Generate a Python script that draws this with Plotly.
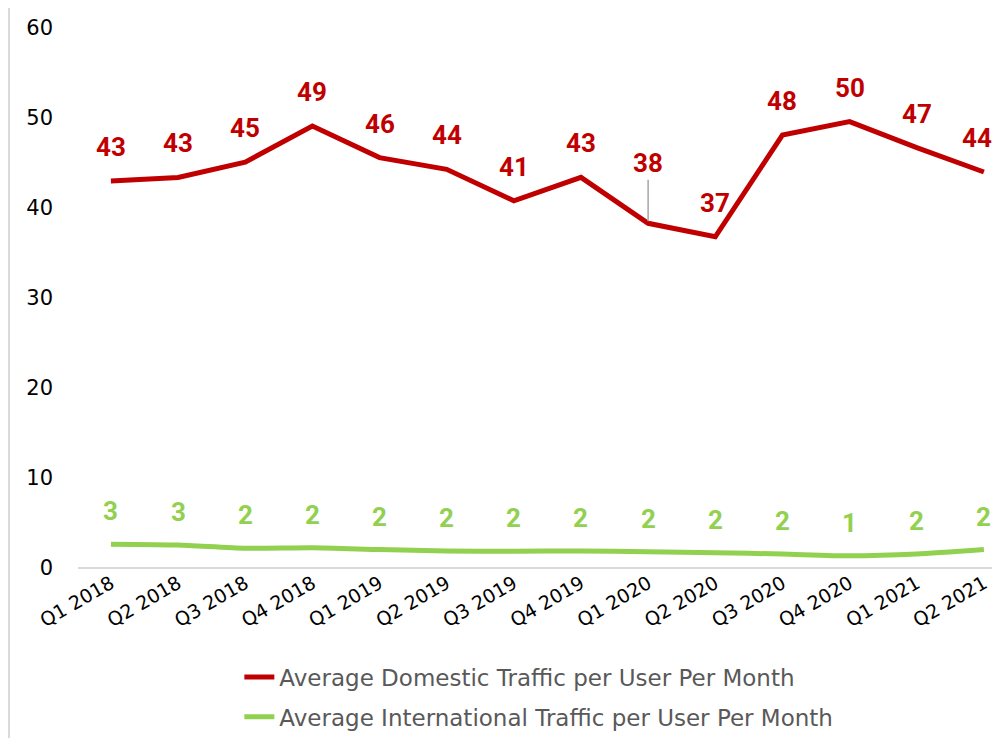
import plotly.graph_objects as go

quarters = ["Q1 2018", "Q2 2018", "Q3 2018", "Q4 2018", "Q1 2019", "Q2 2019", "Q3 2019",
            "Q4 2019", "Q1 2020", "Q2 2020", "Q3 2020", "Q4 2020", "Q1 2021", "Q2 2021"]
domestic = [43.0, 43.4, 45.1, 49.1, 45.6, 44.3, 40.8, 43.4, 38.3, 36.8, 48.1, 49.6, 46.7, 44.0]
international = [2.65, 2.55, 2.2, 2.25, 2.05, 1.9, 1.85, 1.9, 1.8, 1.7, 1.55, 1.35, 1.55, 2.05]
y_ticks = [0, 10, 20, 30, 40, 50, 60]

name_dom = "Average Domestic Traffic per User Per Month"
name_int = "Average International Traffic per User Per Month"
RED = "#C00000"
GREEN = "#92D050"

fig = go.Figure()
fig.add_trace(go.Scatter(x=list(range(len(quarters))), y=domestic, mode="lines", name=name_dom,
                         line=dict(color=RED, width=5), legendgroup="a"))
fig.add_trace(go.Scatter(x=list(range(len(quarters))), y=international, mode="lines", name=name_int,
                         line=dict(color=GREEN, width=5, shape="spline", smoothing=0.6),
                         legendgroup="b"))

lab_font_r = dict(family="Roboto", size=26, color=RED, weight="bold")
lab_font_g = dict(family="Roboto", size=26, color=GREEN, weight="bold")
last = len(quarters) - 1
annotations = []
for i, v in enumerate(domestic):
    if quarters[i] == "Q1 2020":
        annotations.append(dict(x=i, y=v, text=f"{v:.0f}", showarrow=True, arrowhead=0,
                                arrowwidth=1.5, arrowcolor="#A6A6A6", ax=0, ay=-60, standoff=2,
                                font=lab_font_r))
    else:
        annotations.append(dict(x=i, y=v, text=f"{v:.0f}", showarrow=False, yshift=34,
                                xshift=-7 if i == last else 0, font=lab_font_r))
for i, v in enumerate(international):
    annotations.append(dict(x=i, y=v, text=f"{v:.0f}", showarrow=False, yshift=33,
                            font=lab_font_g))

fig.update_layout(
    width=1000, height=738,
    margin=dict(l=70, r=8, t=15, b=177),
    paper_bgcolor="white", plot_bgcolor="white",
    annotations=annotations,
    showlegend=True,
    legend=dict(orientation="v", x=0.175, xanchor="left", y=-0.162, yanchor="top",
                font=dict(family="DejaVu Sans", size=23, color="#595959"),
                tracegroupgap=7, bgcolor="rgba(0,0,0,0)"),
    xaxis=dict(tickmode="array", tickvals=list(range(len(quarters))), ticktext=quarters,
               range=[-0.49, 13.24], tickangle=-30, showgrid=False, zeroline=False,
               showline=False, ticks="",
               tickfont=dict(family="DejaVu Sans", size=19, color="black")),
    yaxis=dict(range=[0, 60], tickvals=y_ticks, showgrid=False, zeroline=True,
               zerolinecolor="#D9D9D9", zerolinewidth=2, showline=False, ticks="",
               ticklabelstandoff=24,
               tickfont=dict(family="DejaVu Sans", size=21, color="black")),
    shapes=[dict(type="line", xref="paper", yref="paper", x0=-0.0748, x1=-0.0748, y0=-0.35, y1=1.05,
                 line=dict(color="#D9D9D9", width=2))],
)

fig.write_html("out.html")
